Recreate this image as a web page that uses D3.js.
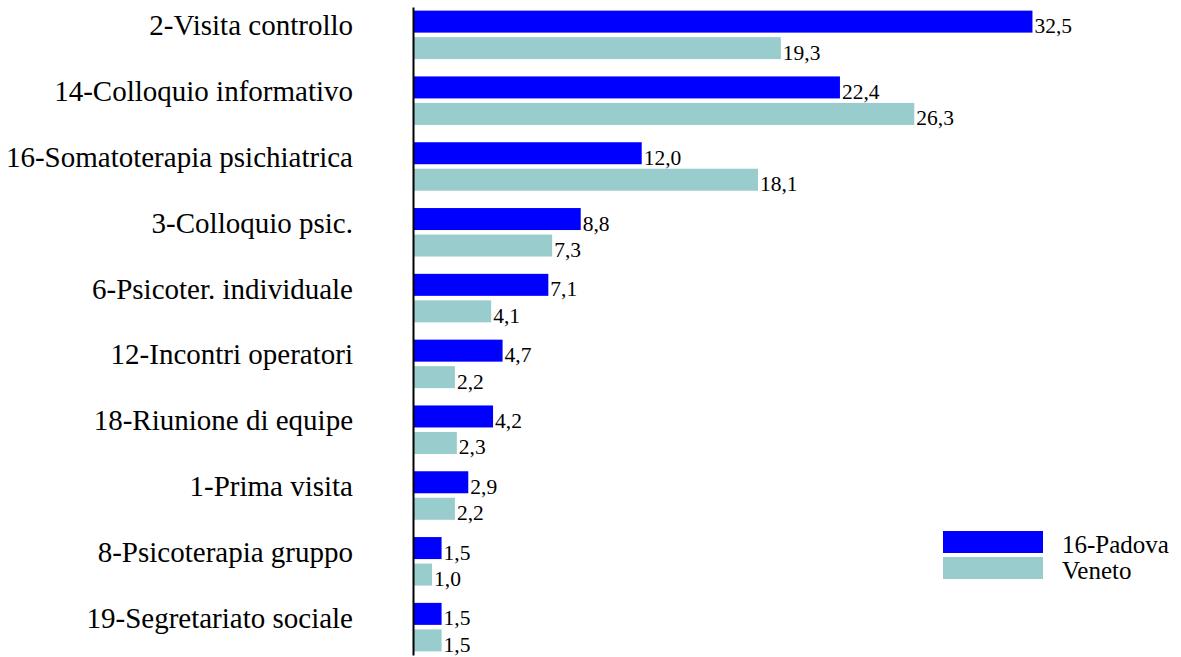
<!DOCTYPE html>
<html>
<head>
<meta charset="utf-8">
<script src="https://cdn.jsdelivr.net/npm/d3@7"></script>
<style>
  body { margin: 0; background: #fff; }
  text { font-family: "Liberation Serif", "Times New Roman", serif; fill: #000; }
</style>
</head>
<body>
<svg id="chart"></svg>
<script>
const width = 1181;
const height = 657;

const categories = [
    "2-Visita controllo",
    "14-Colloquio informativo",
    "16-Somatoterapia psichiatrica",
    "3-Colloquio psic.",
    "6-Psicoter. individuale",
    "12-Incontri operatori",
    "18-Riunione di equipe",
    "1-Prima visita",
    "8-Psicoterapia gruppo",
    "19-Segretariato sociale"
];
const seriesNames = ["16-Padova", "Veneto"];
const padova = [32.5, 22.4, 12.0, 8.8, 7.1, 4.7, 4.2, 2.9, 1.5, 1.5];
const veneto = [19.3, 26.3, 18.1, 7.3, 4.1, 2.2, 2.3, 2.2, 1.0, 1.5];
const colors = ["#0000ff", "#99cccc"];

const rows = categories.map((c, i) => ({cat: c, values: [padova[i], veneto[i]]}));

const svg = d3.select("#chart")
    .attr("width", width)
    .attr("height", height);

const axisX = 413;

const x = d3.scaleLinear()
    .domain([0, 35])
    .range([axisX, axisX + 35 * 19.06]);

const y0 = d3.scaleBand()
    .domain(categories)
    .range([7, 655])
    .paddingInner(0.263)
    .paddingOuter(0.055);

const y1 = d3.scaleBand()
    .domain(seriesNames)
    .range([0, y0.bandwidth()])
    .paddingInner(0.17);

const fmt = v => d3.format(".1f")(v).replace(".", ",");

const groups = svg.append("g")
    .selectAll("g")
    .data(rows)
    .join("g")
    .attr("transform", d => `translate(0,${y0(d.cat)})`);

groups.selectAll("rect")
    .data(d => d.values.map((v, i) => ({name: seriesNames[i], value: v, i})))
    .join("rect")
    .attr("x", x(0))
    .attr("y", d => y1(d.name))
    .attr("width", d => x(d.value) - x(0))
    .attr("height", y1.bandwidth())
    .attr("fill", d => colors[d.i]);

groups.selectAll("text.val")
    .data(d => d.values.map((v, i) => ({name: seriesNames[i], value: v, i})))
    .join("text")
    .attr("class", "val")
    .attr("x", d => x(d.value) + 2)
    .attr("y", d => y1(d.name) + y1.bandwidth() + 0.5)
    .style("font-size", "21.5px")
    .text(d => fmt(d.value));

// category axis
const yAxis = d3.axisLeft(y0)
    .tickSize(0)
    .tickPadding(60);

const axisG = svg.append("g")
    .attr("transform", `translate(${axisX},0)`)
    .call(yAxis);

axisG.select(".domain")
    .attr("stroke", "#000")
    .attr("stroke-width", 2);

axisG.selectAll(".tick text")
    .attr("dy", "0.02em")
    .style("font-family", "'Liberation Serif', 'Times New Roman', serif")
    .style("font-size", "29px")
    .attr("fill", "#000");

// legend
const legend = svg.append("g")
    .attr("transform", "translate(943,531)");

const legendItems = legend.selectAll("g")
    .data(seriesNames)
    .join("g")
    .attr("transform", (d, i) => `translate(0,${i * 26})`);

legendItems.append("rect")
    .attr("width", 100)
    .attr("height", 22)
    .attr("fill", (d, i) => colors[i]);

legendItems.append("text")
    .attr("x", 119)
    .attr("y", 22)
    .style("font-size", "25px")
    .text(d => d);
</script>
</body>
</html>
